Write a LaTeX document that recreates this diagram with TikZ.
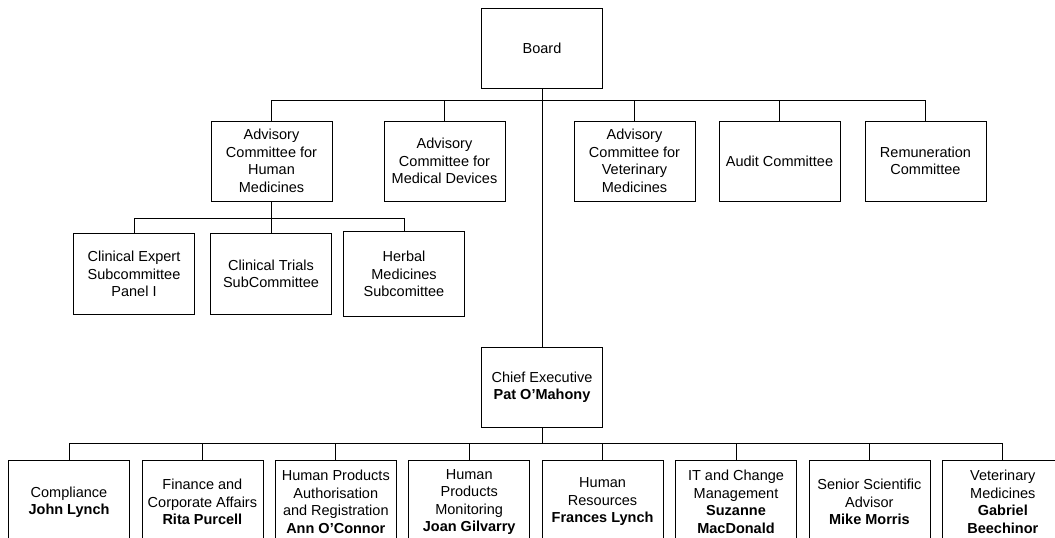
\documentclass[tikz,border=0pt]{standalone}
\usepackage{fontspec}
\setmainfont{Liberation Sans}

\begin{document}
\begin{tikzpicture}[x=1pt,y=-1pt,
		unit/.style={draw, line width=0.8pt, minimum width=121pt, minimum height=80pt, inner sep=0pt, align=center, font=\fontsize{14.5}{17.5}\selectfont},
		link/.style={line width=0.9pt}]
		\useasboundingbox (0,0) rectangle (1055,538);
		\draw (542,48) node[unit] (board) {Board}
		(271.5,161) node[unit] (achm) {Advisory\\Committee for\\Human\\Medicines}
		(444.5,161) node[unit] (acmd) {Advisory\\Committee for\\Medical Devices}
		(634.5,161) node[unit] (acvm) {Advisory\\Committee for\\Veterinary\\Medicines}
		(779.5,161) node[unit] (audit) {Audit Committee}
		(925.5,161) node[unit] (remun) {Remuneration\\Committee}
		(134,274) node[unit, minimum height=81pt] (cesp) {Clinical Expert\\Subcommittee\\Panel I}
		(271,274) node[unit, minimum height=81pt] (ctsc) {Clinical Trials\\SubCommittee}
		(404,274) node[unit, minimum height=85pt] (herb) {Herbal\\Medicines\\Subcomittee}
		(542,387) node[unit] (ceo) {Chief Executive\\\textbf{Pat O’Mahony}};
		
		\draw (69,502) node[unit, minimum height=84pt] (comp) {Compliance\\\textbf{John Lynch}}
		(202.4,502) node[unit, minimum height=84pt] (fin) {Finance and\\Corporate Affairs\\\textbf{Rita Purcell}}
		(335.8,502) node[unit, minimum height=84pt] (hpar) {Human Products\\Authorisation\\and Registration\\\textbf{Ann O’Connor}}
		(469.2,502) node[unit, minimum height=84pt] (hpm) {Human\\Products\\Monitoring\\\textbf{Joan Gilvarry}}
		(602.6,502) node[unit, minimum height=84pt] (hr) {Human\\Resources\\\textbf{Frances Lynch}}
		(736,502) node[unit, minimum height=84pt] (itcm) {IT and Change\\Management\\\textbf{Suzanne}\\\textbf{MacDonald}}
		(869.4,502) node[unit, minimum height=84pt] (ssa) {Senior Scientific\\Advisor\\\textbf{Mike Morris}}
		(1002.8,502) node[unit, minimum height=84pt] (vet) {Veterinary\\Medicines\\\textbf{Gabriel}\\\textbf{Beechinor}};
		
		\coordinate (topbus) at (542,100);
		\coordinate (subbus) at (271.5,218);
		\coordinate (lowbus) at (542,443);
		
		\draw[link] (board.south) -- (ceo.north);
		\draw[link] (achm.north) |- (remun.north |- topbus) -- (remun.north);
		\draw[link] (acmd.north) -- (acmd.north |- topbus);
		\draw[link] (acvm.north) -- (acvm.north |- topbus);
		\draw[link] (audit.north) -- (audit.north |- topbus);
		\draw[link] (achm.south) -- (achm.south |- subbus);
		\draw[link] (cesp.north) |- (herb.north |- subbus) -- (herb.north);
		\draw[link] (ctsc.north) -- (ctsc.north |- subbus);
		\draw[link] (ceo.south) -- (ceo.south |- lowbus);
		\draw[link] (comp.north) |- (vet.north |- lowbus) -- (vet.north);
		\draw[link] (fin.north) -- (fin.north |- lowbus);
		\draw[link] (hpar.north) -- (hpar.north |- lowbus);
		\draw[link] (hpm.north) -- (hpm.north |- lowbus);
		\draw[link] (hr.north) -- (hr.north |- lowbus);
		\draw[link] (itcm.north) -- (itcm.north |- lowbus);
		\draw[link] (ssa.north) -- (ssa.north |- lowbus);
	\end{tikzpicture}
\end{document}
